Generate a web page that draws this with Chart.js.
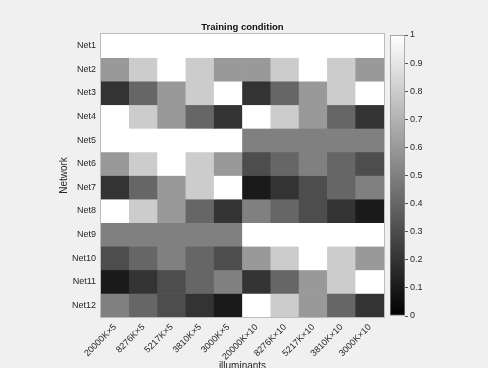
<!DOCTYPE html>
<html>
<head>
<meta charset="utf-8">
<script src="https://cdn.jsdelivr.net/npm/chart.js@4/dist/chart.umd.min.js"></script>
<style>
  html, body { margin: 0; padding: 0; background: #f0f0f0; }
  #wrap { position: relative; width: 488px; height: 368px; overflow: hidden; }
  #main { position: absolute; left: 0; top: 0; }
  #cbar { position: absolute; left: 390px; top: 0; }
</style>
</head>
<body>
<div id="wrap">
  <canvas id="main" width="488" height="368"></canvas>
  <canvas id="cbar" width="98" height="368"></canvas>
</div>
<script>
const chartTitle = 'Training condition';
const illuminants = ['20000K×5','8276K×5','5217K×5','3810K×5','3000K×5','20000K×10','8276K×10','5217K×10','3810K×10','3000K×10'];
const networks = ['Net1','Net2','Net3','Net4','Net5','Net6','Net7','Net8','Net9','Net10','Net11','Net12'];
const colorbarTicks = [0,0.1,0.2,0.3,0.4,0.5,0.6,0.7,0.8,0.9,1];

const net1  = [1,1,1,1,1,1,1,1,1,1];
const net2  = [0.6,0.8,1,0.8,0.6,0.6,0.8,1,0.8,0.6];
const net3  = [0.2,0.4,0.6,0.8,1,0.2,0.4,0.6,0.8,1];
const net4  = [1,0.8,0.6,0.4,0.2,1,0.8,0.6,0.4,0.2];
const net5  = [1,1,1,1,1,0.5,0.5,0.5,0.5,0.5];
const net6  = [0.6,0.8,1,0.8,0.6,0.3,0.4,0.5,0.4,0.3];
const net7  = [0.2,0.4,0.6,0.8,1,0.1,0.2,0.3,0.4,0.5];
const net8  = [1,0.8,0.6,0.4,0.2,0.5,0.4,0.3,0.2,0.1];
const net9  = [0.5,0.5,0.5,0.5,0.5,1,1,1,1,1];
const net10 = [0.3,0.4,0.5,0.4,0.3,0.6,0.8,1,0.8,0.6];
const net11 = [0.1,0.2,0.3,0.4,0.5,0.2,0.4,0.6,0.8,1];
const net12 = [0.5,0.4,0.3,0.2,0.1,1,0.8,0.6,0.4,0.2];
const rows = [net1,net2,net3,net4,net5,net6,net7,net8,net9,net10,net11,net12];

const FONT = "'Liberation Sans', Arial, Helvetica, sans-serif";
const TEXT = '#262626';
function gray(v) { const g = Math.round(v * 255); return `rgb(${g},${g},${g})`; }

const datasets = rows.map((vals, i) => ({
  label: networks[i],
  data: vals.map(() => [i, i + 1]),
  backgroundColor: vals.map(gray),
  borderWidth: 0,
  barPercentage: 1,
  categoryPercentage: 1,
  grouped: false
}));

const boxPlugin = {
  id: 'box',
  afterDatasetsDraw(chart) {
    const { ctx, chartArea: a } = chart;
    ctx.save();
    ctx.strokeStyle = '#bcbcbc';
    ctx.lineWidth = 1;
    ctx.strokeRect(a.left - 0.5, a.top - 0.5, a.right - a.left + 1, a.bottom - a.top + 1);
    ctx.fillStyle = '#111';
    ctx.font = 'bold 9.5px ' + FONT;
    ctx.textAlign = 'center';
    ctx.textBaseline = 'middle';
    ctx.fillText(chartTitle, (a.left + a.right) / 2, a.top - 7);
    ctx.restore();
  }
};

new Chart(document.getElementById('main'), {
  type: 'bar',
  data: { labels: illuminants, datasets },
  options: {
    responsive: false,
    animation: false,
    layout: { padding: { left: 58, right: 104, top: 34, bottom: 0 } },
    plugins: {
      legend: { display: false },
      tooltip: { enabled: false },
      title: { display: false }
    },
    scales: {
      x: {
        type: 'category',
        grid: { display: false, drawTicks: false },
        border: { display: false },
        ticks: {
          color: TEXT, font: { family: FONT, size: 9 },
          minRotation: 45, maxRotation: 45, padding: 5
        },
        title: {
          display: true, text: 'illuminants', color: TEXT,
          font: { family: FONT, size: 10 }, padding: { top: 0, bottom: -4 }
        },
        afterFit(scale) { scale.height = 51; }
      },
      y: {
        type: 'linear',
        min: 0, max: 12, reverse: true,
        grid: { display: false, drawTicks: false },
        border: { display: false },
        afterBuildTicks(axis) { axis.ticks = networks.map((n, i) => ({ value: i + 0.5 })); },
        ticks: {
          color: TEXT, font: { family: FONT, size: 9 }, padding: 5,
          callback: (v) => networks[Math.floor(v)]
        },
        title: {
          display: true, text: 'Network', color: TEXT,
          font: { family: FONT, size: 10 }, padding: { top: 0, bottom: 0 }
        },
        afterFit(scale) { scale.width = 43; }
      }
    }
  },
  plugins: [boxPlugin]
});

new Chart(document.getElementById('cbar'), {
  type: 'bar',
  data: {
    labels: [''],
    datasets: [{
      data: [[0, 1]],
      backgroundColor(ctx) {
        const a = ctx.chart.chartArea;
        if (!a) return '#888';
        const g = ctx.chart.ctx.createLinearGradient(0, a.bottom, 0, a.top);
        g.addColorStop(0, '#000000');
        g.addColorStop(1, '#ffffff');
        return g;
      },
      borderColor: '#8a8a8a',
      borderWidth: 1,
      borderSkipped: false,
      barPercentage: 1,
      categoryPercentage: 1
    }]
  },
  options: {
    responsive: false,
    animation: false,
    layout: { padding: { left: 0, right: 0, top: 35, bottom: 52 } },
    plugins: { legend: { display: false }, tooltip: { enabled: false } },
    scales: {
      x: { display: false },
      y: {
        position: 'right',
        min: 0, max: 1,
        afterBuildTicks(axis) { axis.ticks = colorbarTicks.map(v => ({ value: v })); },
        grid: { drawOnChartArea: false, tickLength: 3, color: '#555' },
        border: { display: false },
        ticks: {
          color: TEXT, font: { family: FONT, size: 9 }, padding: 2,
          callback: (v) => String(Math.round(v * 10) / 10)
        },
        afterFit(scale) { scale.width = 83; }
      }
    }
  }
});
</script>
</body>
</html>
